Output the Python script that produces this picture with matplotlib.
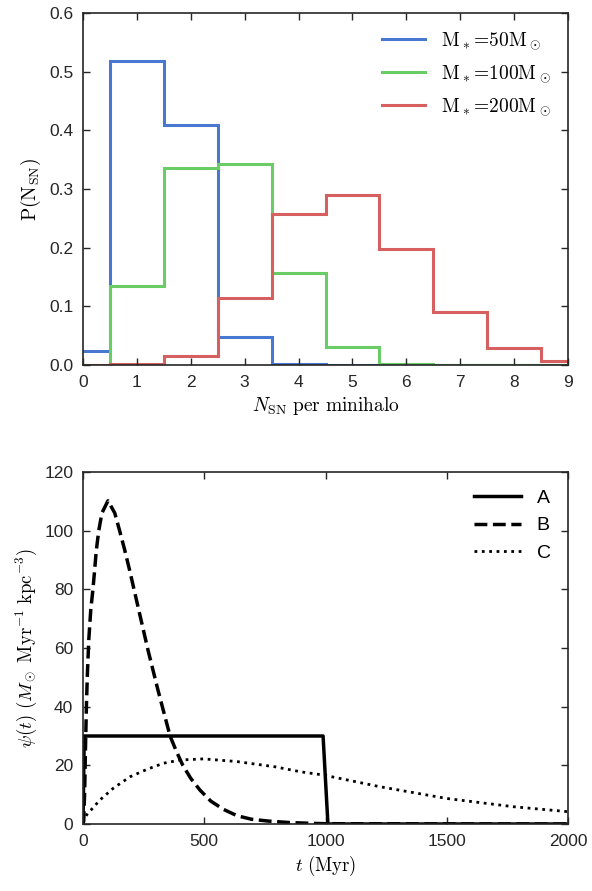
import numpy as np
import matplotlib
matplotlib.use("Agg")
import matplotlib.pyplot as plt

plt.rcParams['font.family'] = ['Liberation Sans', 'DejaVu Sans']
plt.rcParams['mathtext.fontset'] = 'cm'
plt.rcParams['font.size'] = 12

# --- top panel: probability of N_SN per minihalo ---
n_sn = np.arange(0, 10)
p_50 = [0.024, 0.519, 0.409, 0.048, 0.001, 0.0, 0.0, 0.0, 0.0, 0.0]
p_100 = [0.0, 0.134, 0.336, 0.343, 0.156, 0.030, 0.002, 0.0005, 0.0, 0.0]
p_200 = [0.0, 0.001, 0.015, 0.115, 0.258, 0.289, 0.197, 0.090, 0.029, 0.007]
hist_labels = [r'$\mathrm{M_*\!=\!50M_\odot}$',
               r'$\mathrm{M_*\!=\!100M_\odot}$',
               r'$\mathrm{M_*\!=\!200M_\odot}$']
hist_colors = ['#4878CF', '#6ACC65', '#D65F5F']

# --- bottom panel: star formation histories ---
t_A = [0, 5, 990, 1010, 2000]
psi_A = [0, 30, 30, 0, 0]

t_B = [0, 3, 7, 10, 14, 18, 24, 32, 41, 48, 55, 65, 78, 103, 131, 151, 172,
       192, 227, 268, 309, 359, 386, 411, 444, 482, 527, 579, 636, 696, 764,
       850, 950, 1000, 2000]
psi_B = [0, 1, 11.6, 25, 40, 51, 63, 73, 80, 86.6, 93.4, 100, 106, 110.2,
         106, 100, 93.4, 86.6, 74, 59.3, 45.7, 30, 24.6, 20.1, 15.6, 11.6,
         7.8, 5.0, 2.8, 1.6, 1.0, 0.5, 0.2, 0.1, 0]

t_C = [0, 3, 15, 70, 125, 194, 263, 331, 400, 496, 633, 792, 897, 991,
       1225, 1500, 1774, 2000]
psi_C = [0.5, 1.4, 3.1, 8.2, 12.2, 16.1, 18.6, 20.7, 21.8, 22.2, 21.3, 19.5,
         17.8, 16.7, 12.7, 8.7, 5.9, 4.2]

fig = plt.figure(figsize=(5.92, 8.91), dpi=100)
ax1 = fig.add_axes([83 / 592, 1 - 365 / 891, 485 / 592, 352 / 891])
ax2 = fig.add_axes([83 / 592, 1 - 824 / 891, 485 / 592, 352 / 891])

edges = np.append(n_sn - 0.5, n_sn[-1] + 0.5)
for p, lab, col in zip([p_50, p_100, p_200], hist_labels, hist_colors):
    ax1.stairs(p, edges, color=col, lw=2.2, label=lab)
ax1.set_xlim(0, 9)
ax1.set_ylim(0, 0.6)
ax1.set_xticks(range(0, 10))
ax1.set_yticks(np.arange(0, 0.61, 0.1))
ax1.set_xlabel(r'$N_{\rm SN}\ \mathrm{per\ minihalo}$', fontsize=14)
ax1.set_ylabel(r'$\mathrm{P(N_{SN})}$', fontsize=14)
ax1.legend(loc='upper right', frameon=False, handlelength=2.2,
           fontsize=14, labelspacing=0.6)

ax2.plot(t_A, psi_A, color='black', lw=2.5, ls='-', label='A')
ax2.plot(t_B, psi_B, color='black', lw=2.5, ls='--', label='B')
ax2.plot(t_C, psi_C, color='black', lw=2, ls=':', label='C')
ax2.set_xlim(0, 2000)
ax2.set_ylim(0, 120)
ax2.set_xticks(range(0, 2001, 500))
ax2.set_yticks(range(0, 121, 20))
ax2.set_xlabel(r'$t\ (\mathrm{Myr})$', fontsize=13.5)
ax2.set_ylabel(r'$\psi(t)\ (M_\odot\ \mathrm{Myr^{-1}\ kpc^{-3}})$', fontsize=13.5)
ax2.legend(loc='upper right', frameon=False, handlelength=2.4,
           fontsize=14, labelspacing=0.5)

for ax in (ax1, ax2):
    ax.tick_params(direction='in', top=True, right=True, length=5,
                   width=1, colors='#262626', labelsize=12.5, pad=7)
    for s in ax.spines.values():
        s.set_color('#262626')
        s.set_linewidth(1.2)

fig.savefig('out.png', dpi=100)
